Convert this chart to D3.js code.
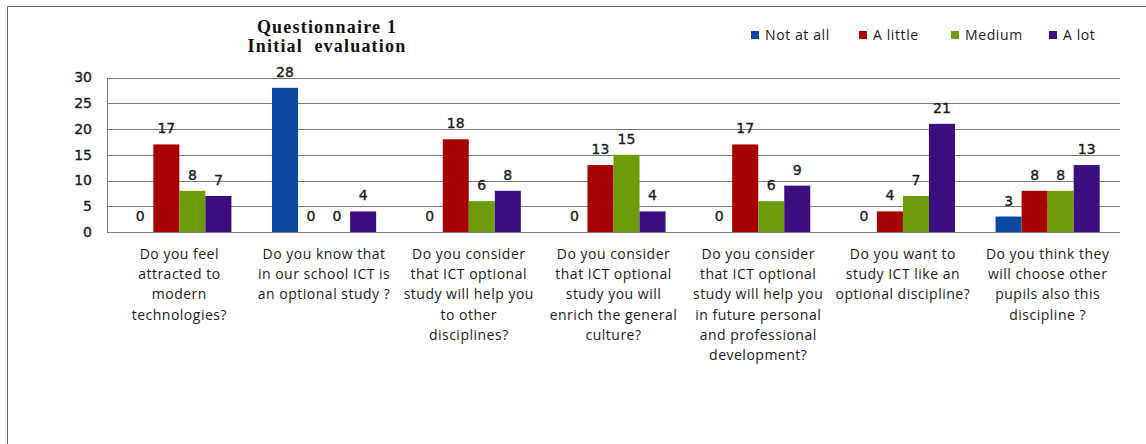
<!DOCTYPE html>
<html>
<head>
<meta charset="utf-8">
<script src="https://cdn.jsdelivr.net/npm/d3@7"></script>
<style>
  html, body { margin: 0; padding: 0; background: #fff; }
  svg { display: block; }
</style>
</head>
<body>
<svg id="chart" width="1146" height="444"></svg>
<script>
// Questionnaire 1 – initial evaluation answers
const questions = [
  ["Do you feel", "attracted to", "modern", "technologies?"],
  ["Do you know that", "in our school ICT is", "an optional study ?"],
  ["Do you consider", "that ICT optional", "study will help you", "to other", "disciplines?"],
  ["Do you consider", "that ICT optional", "study you will", "enrich the general", "culture?"],
  ["Do you consider", "that ICT optional", "study will help you", "in future personal", "and professional", "development?"],
  ["Do you want to", "study ICT like an", "optional discipline?"],
  ["Do you think they", "will choose other", "pupils also this", "discipline ?"]
];
const seriesNames = ["Not at all", "A little", "Medium", "A lot"];
const notAtAll = [0, 28, 0, 0, 0, 0, 3];
const aLittle  = [17, 0, 18, 13, 17, 4, 8];
const medium   = [8, 0, 6, 15, 6, 7, 8];
const aLot     = [7, 4, 8, 4, 9, 21, 13];
const yTicks = [0, 5, 10, 15, 20, 25, 30];
const titleLines = ["Questionnaire 1", "Initial  evaluation"];

const seriesValues = [notAtAll, aLittle, medium, aLot];
const colors = ["#0b4aa2", "#a80000", "#6c9c08", "#3d0e80"];

const svg = d3.select("#chart");

// frame
svg.append("path")
  .attr("d", "M7.5,444 V6.5 H1146")
  .attr("fill", "none")
  .attr("stroke", "#6a6a6a")
  .attr("stroke-width", 1);

const plot = { left: 107, right: 1120, top: 77.5, bottom: 232 };

const x0 = d3.scaleBand()
  .domain(d3.range(questions.length))
  .range([plot.left, plot.right])
  .padding(0);

const x1 = d3.scaleBand()
  .domain(d3.range(seriesNames.length))
  .range([0, x0.bandwidth()])
  .paddingInner(0)
  .paddingOuter(0.78);

const y = d3.scaleLinear()
  .domain([0, 30])
  .range([plot.bottom, plot.top]);

const numFont = {
  family: "DejaVu Sans", size: 14, fill: "#1a1a1a"
};

// gridlines
svg.append("g")
  .selectAll("line")
  .data(yTicks)
  .join("line")
  .attr("x1", plot.left)
  .attr("x2", plot.right)
  .attr("y1", d => Math.round(y(d)) + 0.5)
  .attr("y2", d => Math.round(y(d)) + 0.5)
  .attr("stroke", "#7a7a7a")
  .attr("stroke-width", 1);

// left axis line
svg.append("line")
  .attr("x1", plot.left + 0.5).attr("x2", plot.left + 0.5)
  .attr("y1", Math.round(y(30)) + 0.5).attr("y2", Math.round(y(0)) + 0.5)
  .attr("stroke", "#7a7a7a");

// y tick labels
const yAxis = d3.axisLeft(y).tickValues(yTicks).tickSize(0).tickPadding(15);
const gy = svg.append("g")
  .attr("transform", `translate(${plot.left},0)`)
  .call(yAxis);
gy.select(".domain").remove();
gy.selectAll("text")
  .attr("font-family", numFont.family)
  .attr("font-size", numFont.size)
  .attr("fill", numFont.fill)
  .attr("stroke", numFont.fill)
  .attr("stroke-width", 0.35);

// bars
const groups = svg.append("g")
  .selectAll("g")
  .data(questions.map((q, i) => i))
  .join("g")
  .attr("transform", i => `translate(${x0(i)},0)`);

groups.selectAll("rect")
  .data(i => seriesValues.map((s, k) => ({ k, v: s[i] })))
  .join("rect")
  .attr("x", d => x1(d.k))
  .attr("width", x1.bandwidth())
  .attr("y", d => y(d.v))
  .attr("height", d => y(0) - y(d.v))
  .attr("fill", d => colors[d.k]);

groups.selectAll("text")
  .data(i => seriesValues.map((s, k) => ({ k, v: s[i] })))
  .join("text")
  .attr("x", d => x1(d.k) + x1.bandwidth() / 2)
  .attr("y", d => y(d.v) - 11)
  .attr("text-anchor", "middle")
  .attr("font-family", numFont.family)
  .attr("font-size", numFont.size)
  .attr("fill", numFont.fill)
  .attr("stroke", numFont.fill)
  .attr("stroke-width", 0.35)
  .text(d => d.v);

// category labels
const cat = svg.append("g")
  .selectAll("text")
  .data(questions)
  .join("text")
  .attr("x", (d, i) => x0(i) + x0.bandwidth() / 2)
  .attr("y", 259)
  .attr("text-anchor", "middle")
  .attr("font-family", "Open Sans")
  .attr("font-size", 14)
  .attr("letter-spacing", 0.5)
  .attr("fill", "#1a1a1a");
cat.selectAll("tspan")
  .data(d => d)
  .join("tspan")
  .attr("x", function () { return d3.select(this.parentNode).attr("x"); })
  .attr("dy", (d, j) => j === 0 ? 0 : 20.2)
  .text(d => d);

// title
svg.append("g")
  .selectAll("text")
  .data(titleLines)
  .join("text")
  .attr("x", 327)
  .attr("y", (d, j) => 32.5 + j * 19.5)
  .attr("text-anchor", "middle")
  .attr("font-family", "Liberation Serif")
  .attr("font-weight", "bold")
  .attr("font-size", 18)
  .attr("letter-spacing", 1.2)
  .attr("fill", "#111")
  .style("white-space", "pre")
  .text(d => d);

// legend
const legendX = [751, 859, 951, 1049];
const legend = svg.append("g")
  .selectAll("g")
  .data(seriesNames)
  .join("g")
  .attr("transform", (d, i) => `translate(${legendX[i]},31)`);
legend.append("rect")
  .attr("width", 8).attr("height", 8)
  .attr("fill", (d, i) => colors[i]);
legend.append("text")
  .attr("x", 14)
  .attr("y", 9)
  .attr("font-family", "Open Sans")
  .attr("font-size", 14)
  .attr("letter-spacing", 0.6)
  .attr("fill", "#1a1a1a")
  .text(d => d);
</script>
</body>
</html>
